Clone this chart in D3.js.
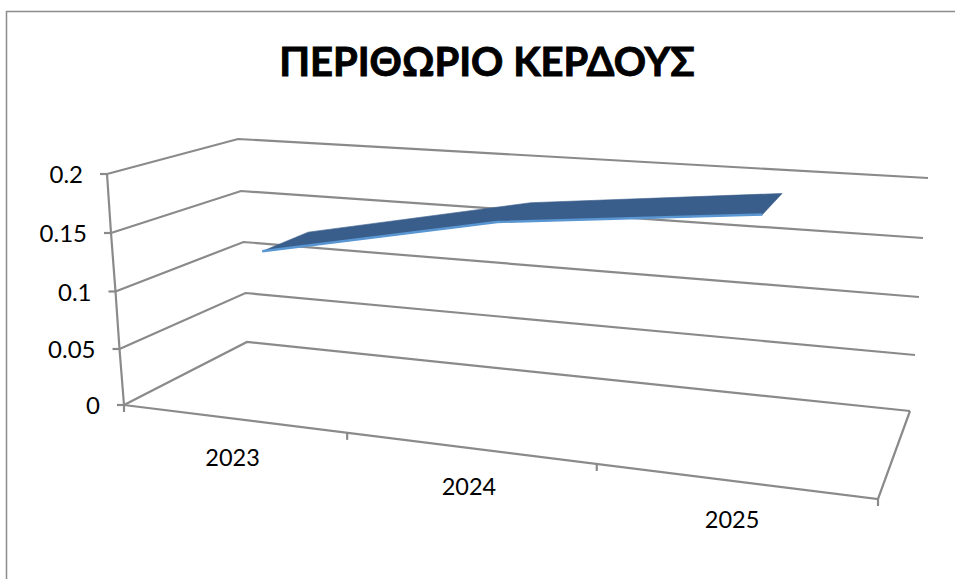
<!DOCTYPE html>
<html>
<head>
<meta charset="utf-8">
<style>
html,body{margin:0;padding:0;background:#fff;overflow:hidden}
svg{display:block}
text{font-family:Lato,"Open Sans","Noto Sans",sans-serif;fill:#000}
</style>
<script src="https://cdnjs.cloudflare.com/ajax/libs/d3/7.8.5/d3.min.js"></script>
</head>
<body>
<div id="chart"></div>
<script>
// Profit margin by year, drawn as a 3D ribbon line chart
const chartTitle = "ΠΕΡΙΘΩΡΙΟ ΚΕΡΔΟΥΣ";
const categories = ["2023", "2024", "2025"];
const marginValues = [0.131, 0.172, 0.194];
const valueTicks = [0, 0.05, 0.1, 0.15, 0.2];
const valueTickLabels = ["0", "0.05", "0.1", "0.15", "0.2"];

const width = 955, height = 579;
const axisColor = "#8a8a8a";

const svg = d3.select("#chart").append("svg")
  .attr("width", width).attr("height", height);

// Outer chart frame, open on the right and bottom
svg.append("path")
  .attr("d", "M6.5,579V11.5H955")
  .attr("fill", "none").attr("stroke", "#8c8c8c").attr("stroke-width", 1.5);

svg.append("text")
  .attr("x", 487).attr("y", 76)
  .attr("text-anchor", "middle")
  .attr("font-size", 40).attr("font-weight", 700)
  .attr("stroke", "#000").attr("stroke-width", 0.9)
  .text(chartTitle);

// The box is described by its four vertical edges, each mapping value to screen
const edge = (xs, ys) => ({
  x: d3.scaleLinear().domain(valueTicks).range(xs),
  y: d3.scaleLinear().domain(valueTicks).range(ys)
});
const frontLeft  = edge([124, 119.5, 115.5, 111, 107], [405, 349, 291.5, 233, 174]);
const backLeft   = edge([247, 245.5, 243.5, 241, 238], [342, 293, 242, 191, 139]);
const backRight  = edge([910, 915, 919, 923, 928], [411, 355, 297, 238, 178]);
const frontRight = edge([878, 883, 888, 893, 898], [499, 433, 367, 300, 234]);

// Position across the box: tick boundaries, with categories centred between them
const boundaryU = d3.scaleLinear().domain([0, 1, 2, 3]).range([0, 0.296, 0.627, 0.994]);
const categoryU = i => (boundaryU(i) + boundaryU(i + 1)) / 2;

// Blend the four edges: u runs left to right, d runs front to back
function project(u, d, v) {
  const mix = (a, b, t) => a + (b - a) * t;
  const axis = k => mix(
    mix(frontLeft[k](v), backLeft[k](v), d),
    mix(frontRight[k](v), backRight[k](v), d),
    u
  );
  return [axis("x"), axis("y")];
}

const line = d3.line();
const gridGroup = svg.append("g")
  .attr("fill", "none").attr("stroke", axisColor).attr("stroke-width", 2.2);

// Wall gridlines: side wall then back wall at every value tick
valueTicks.forEach(v => {
  gridGroup.append("path").attr("d", line([
    project(0, 0, v), project(0, 1, v), project(1, 1, v)
  ]));
});

// Value axis, floor outline and tick stubs
gridGroup.append("path").attr("d", line(valueTicks.map(v => project(0, 0, v))));
gridGroup.append("path").attr("d", line([
  project(0, 0, 0), project(1, 0, 0), project(1, 1, 0)
]));

valueTicks.forEach((v, i) => {
  const [x, y] = project(0, 0, v);
  gridGroup.append("path").attr("d", line([[x - 7, y], [x, y]]));
  svg.append("text")
    .attr("x", x - 24).attr("y", y + 9)
    .attr("text-anchor", "end")
    .attr("font-size", 24)
    .text(valueTickLabels[i]);
});

// Category tick stubs run along the whole front edge, including its far corner
[0, 1, 2].forEach(i => {
  const [x, y] = project(boundaryU(i), 0, 0);
  gridGroup.append("path").attr("d", line([[x, y], [x, y + 7]]));
});
const [cornerX, cornerY] = project(1, 0, 0);
gridGroup.append("path").attr("d", line([[cornerX, cornerY], [cornerX, cornerY + 7]]));

categories.forEach((c, i) => {
  const [x, y] = project(categoryU(i), 0, 0);
  svg.append("text")
    .attr("x", x - 3).attr("y", y + 47)
    .attr("text-anchor", "middle")
    .attr("font-size", 23.5)
    .text(c);
});

// Ribbon for the series: top face plus a lighter front edge
const depthFront = 0.3, depthBack = 0.7;
const frontEdge = marginValues.map((v, i) => project(categoryU(i), depthFront, v));
const backEdge = marginValues.map((v, i) => project(categoryU(i), depthBack, v));

svg.append("path")
  .attr("d", line(frontEdge.concat(backEdge.slice().reverse())) + "Z")
  .attr("fill", "#3a5e8c")
  .attr("stroke", "#3a5e8c").attr("stroke-width", 0.6);

svg.append("path")
  .attr("d", line(frontEdge))
  .attr("fill", "none")
  .attr("stroke", "#5a96d2").attr("stroke-width", 2.4);
</script>
</body>
</html>
